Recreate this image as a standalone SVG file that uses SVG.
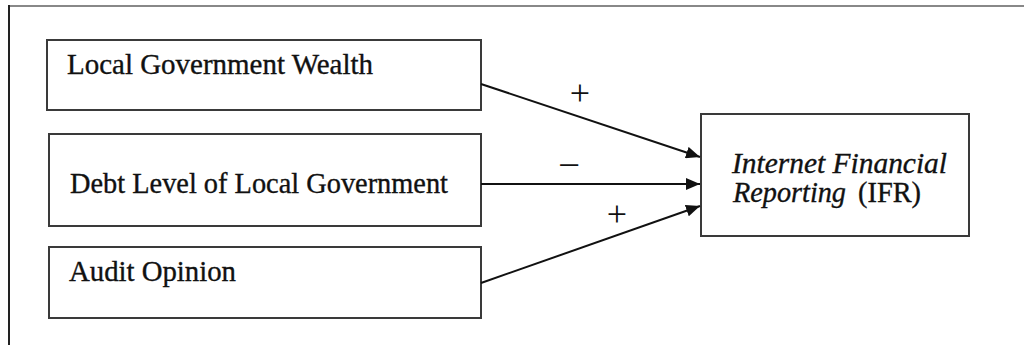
<svg xmlns="http://www.w3.org/2000/svg" width="1024" height="345" viewBox="0 0 1024 345">
<defs>
<style>
.box{fill:#fff;stroke:#3a3a3a;stroke-width:2}
.t{font-family:"Liberation Serif","Times New Roman",serif;font-size:29px;fill:#111;stroke:#111;stroke-width:0.35}
.it{font-style:italic}
.c{stroke:#111;stroke-width:2;fill:none;marker-end:url(#ah)}
.s{font-family:"Liberation Serif","Times New Roman",serif;font-size:36px;fill:#111;text-anchor:middle}
</style>
<marker id="ah" viewBox="0 0 14 12" refX="14" refY="6" markerWidth="14" markerHeight="12" markerUnits="userSpaceOnUse" orient="auto">
<path d="M0,0 L14,6 L0,12 Z" fill="#111"/>
</marker>
</defs>
<rect width="1024" height="345" fill="#fff"/>
<g id="frame">
<line x1="9" y1="6" x2="1024" y2="6" stroke="#888" stroke-width="2"/>
<line x1="9" y1="5" x2="9" y2="345" stroke="#222" stroke-width="2"/>
</g>
<g id="n1">
<rect class="box" x="47" y="40" width="434" height="70"/>
<text class="t" x="67" y="74" textLength="306" lengthAdjust="spacingAndGlyphs">Local Government Wealth</text>
</g>
<g id="n2">
<rect class="box" x="49" y="134" width="432" height="92"/>
<text class="t" x="70" y="193" textLength="378" lengthAdjust="spacingAndGlyphs">Debt Level of Local Government</text>
</g>
<g id="n3">
<rect class="box" x="49" y="247" width="432" height="71"/>
<text class="t" x="69" y="281" textLength="167" lengthAdjust="spacingAndGlyphs">Audit Opinion</text>
</g>
<g id="n4">
<rect class="box" x="701" y="114" width="268" height="122"/>
<text class="t it" x="732" y="173" textLength="215" lengthAdjust="spacingAndGlyphs">Internet Financial</text>
<text class="t it" x="733" y="202" textLength="113" lengthAdjust="spacingAndGlyphs">Reporting</text>
<text class="t" x="858" y="202" textLength="63" lengthAdjust="spacingAndGlyphs">(IFR)</text>
</g>
<g id="connectors">
<line class="c" x1="481" y1="84" x2="700" y2="157"/>
<line class="c" x1="481" y1="184" x2="700" y2="184"/>
<line class="c" x1="481" y1="283" x2="700" y2="206"/>
<text class="s" x="580" y="105">+</text>
<text class="s" x="569" y="177" textLength="22" lengthAdjust="spacingAndGlyphs">−</text>
<text class="s" x="617" y="226">+</text>
</g>
</svg>
